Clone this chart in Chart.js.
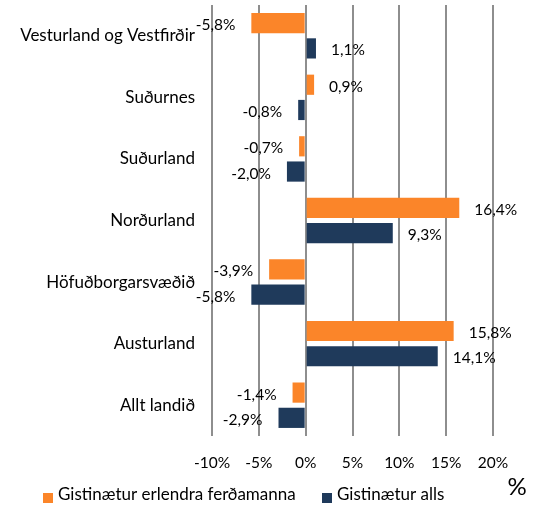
<!DOCTYPE html>
<html>
<head>
<meta charset="utf-8">
<script src="https://cdn.jsdelivr.net/npm/chart.js@4/dist/chart.umd.min.js"></script>
<style>
  html, body { margin: 0; padding: 0; background: #fff; }
</style>
</head>
<body>
<canvas id="myChart" width="539" height="507"></canvas>
<script>
// data
const regions = ['Vesturland og Vestfirðir', 'Suðurnes', 'Suðurland', 'Norðurland', 'Höfuðborgarsvæðið', 'Austurland', 'Allt landið']
const erlendir = [-5.8, 0.9, -0.7, 16.4, -3.9, 15.8, -1.4]
const alls = [1.1, -0.8, -2.0, 9.3, -5.8, 14.1, -2.9]
const seriesNames = ['Gistinætur erlendra ferðamanna', 'Gistinætur alls']
const xMin = -10
const xMax = 20
const xStep = 5
const unitLabel = '%'

const ORANGE = '#fb8529'
const NAVY = '#1f3a5b'
const FONT = 'Lato, "Open Sans", sans-serif'

// labels at the end of every bar, like 1,1%
const valueLabels = {
    id: 'valueLabels',
    afterDatasetsDraw(chart) {
        const ctx = chart.ctx
        ctx.save()
        ctx.font = '15.5px ' + FONT
        ctx.fillStyle = '#000'
        ctx.textBaseline = 'middle'
        chart.data.datasets.forEach((ds, i) => {
            const meta = chart.getDatasetMeta(i)
            meta.data.forEach((bar, j) => {
                const v = ds.data[j]
                const txt = v.toFixed(1).replace('.', ',') + '%'
                if (v >= 0) {
                    ctx.textAlign = 'left'
                    ctx.fillText(txt, bar.x + 15, bar.y + 2)
                } else {
                    ctx.textAlign = 'right'
                    ctx.fillText(txt, bar.x - 16, bar.y + 2)
                }
            })
        })
        ctx.restore()
    }
}

// legend and the % sign at the bottom
const bottomStuff = {
    id: 'bottomStuff',
    afterDraw(chart) {
        const ctx = chart.ctx
        ctx.save()
        ctx.font = '17px ' + FONT
        ctx.textBaseline = 'middle'
        ctx.textAlign = 'left'
        const items = [
            { x: 43, color: ORANGE, text: seriesNames[0] },
            { x: 322, color: NAVY, text: seriesNames[1] }
        ]
        items.forEach(it => {
            ctx.fillStyle = it.color
            ctx.fillRect(it.x, 493, 10, 10)
            ctx.fillStyle = '#000'
            ctx.fillText(it.text, it.x + 15, 495)
        })
        ctx.font = '24px ' + FONT
        ctx.textAlign = 'center'
        ctx.textBaseline = 'alphabetic'
        ctx.fillText(unitLabel, 517, 495)
        ctx.restore()
    }
}

const chartManagement = function () {
    const ctx = document.getElementById('myChart')
    new Chart(ctx, {
        type: 'bar',
        data: {
            labels: regions,
            datasets: [{
                label: seriesNames[0],
                data: erlendir,
                backgroundColor: ORANGE,
                categoryPercentage: 0.82,
                barPercentage: 0.8
            }, {
                label: seriesNames[1],
                data: alls,
                backgroundColor: NAVY,
                categoryPercentage: 0.82,
                barPercentage: 0.8
            }]
        },
        options: {
            indexAxis: 'y',
            responsive: false,
            animation: false,
            devicePixelRatio: 1,
            layout: { padding: { top: 5, right: 46, left: 0, bottom: 0 } },
            plugins: {
                legend: { display: false },
                tooltip: { enabled: false }
            },
            scales: {
                x: {
                    min: xMin,
                    max: xMax,
                    afterFit: s => { s.height = 71; s.paddingLeft = 0; s.paddingRight = 0 },
                    border: { display: false },
                    grid: { color: '#8e8e8e', lineWidth: 2, drawTicks: false },
                    ticks: {
                        stepSize: xStep,
                        padding: 18,
                        color: '#000',
                        font: { family: FONT, size: 15.5 },
                        callback: v => v + '%'
                    }
                },
                y: {
                    afterFit: s => { s.width = 212; s.paddingTop = 0; s.paddingBottom = 0 },
                    border: { display: false },
                    grid: { display: false, drawTicks: false },
                    ticks: {
                        padding: 17,
                        color: '#000',
                        font: { family: FONT, size: 17 }
                    }
                }
            }
        },
        plugins: [valueLabels, bottomStuff]
    })
}
chartManagement()
</script>
</body>
</html>
